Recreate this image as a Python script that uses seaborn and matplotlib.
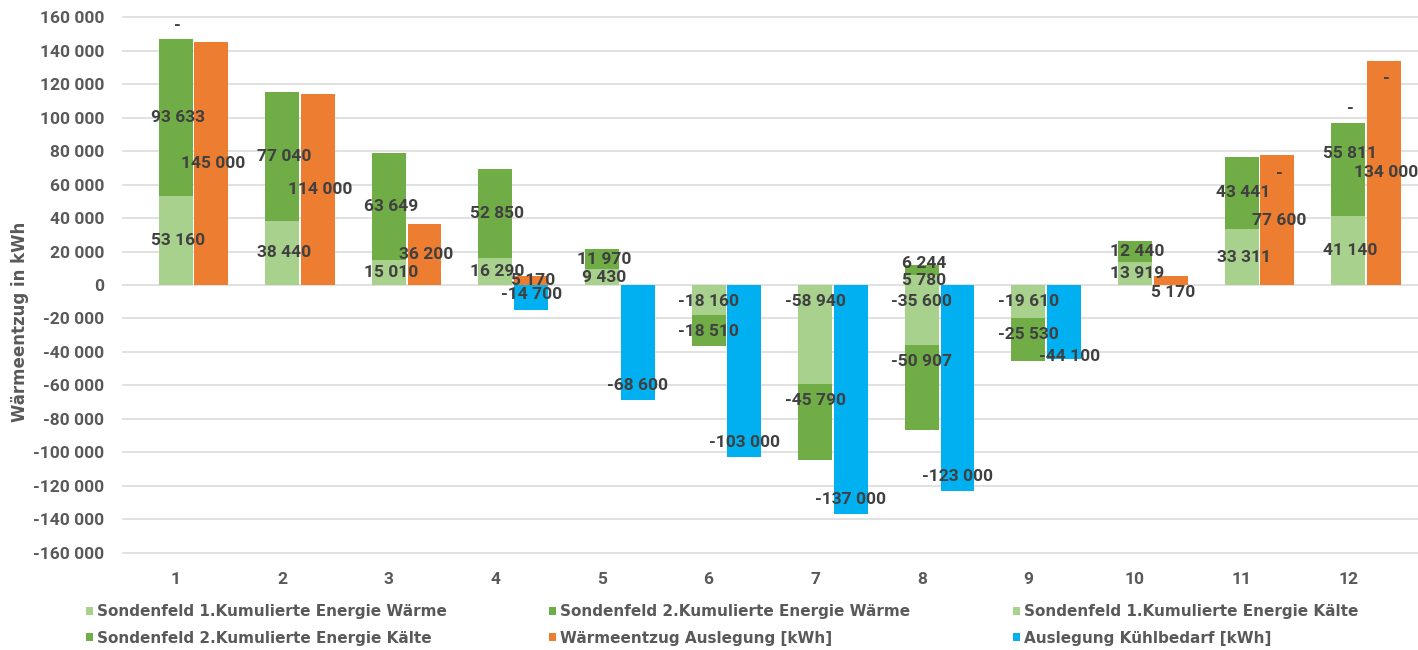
import numpy as np
import pandas as pd
import matplotlib
matplotlib.use("Agg")
import matplotlib.pyplot as plt
from matplotlib.patches import Patch
from matplotlib.ticker import FuncFormatter
import seaborn as sns

# Monthly energy balance of the two borehole fields (kWh); NaN = empty cell, 0 = shown as "-"
nan = np.nan
months = list(range(1, 13))
s1_waerme = [53160, 38440, 15010, 16290, 9430, nan, nan, 5780, nan, 13919, 33311, 41140]
s2_waerme = [93633, 77040, 63649, 52850, 11970, nan, nan, 6244, nan, 12440, 43441, 55811]
s1_kaelte = [0, nan, nan, nan, nan, -18160, -58940, -35600, -19610, nan, nan, 0]
s2_kaelte = [0, nan, nan, nan, nan, -18510, -45790, -50907, -25530, nan, nan, 0]
waermeentzug = [145000, 114000, 36200, 5170, nan, nan, nan, nan, nan, 5170, 77600, 134000]
kuehlbedarf = [nan, nan, nan, -14700, -68600, -103000, -137000, -123000, -44100, nan, 0, 0]

legend_labels = [
    "Sondenfeld 1.Kumulierte Energie Wärme",
    "Sondenfeld 2.Kumulierte Energie Wärme",
    "Sondenfeld 1.Kumulierte Energie Kälte",
    "Sondenfeld 2.Kumulierte Energie Kälte",
    "Wärmeentzug Auslegung [kWh]",
    "Auslegung Kühlbedarf [kWh]",
]
y_title = "Wärmeentzug in kWh"

C_LIGHT = "#A9D18E"
C_DARK = "#70AD47"
C_ORANGE = "#ED7D31"
C_BLUE = "#00B0F0"
LABEL_TXT = "#404040"
AXIS_TXT = "#595959"
GRID = "#D9D9D9"
NUM_FONT = ["Roboto", "DejaVu Sans"]

sns.set_theme(style="white")
plt.rcParams["font.family"] = ["DejaVu Sans"]

W, H = 1418, 650
fig = plt.figure(figsize=(W / 100, H / 100), dpi=100)
fig.patch.set_facecolor("white")
ax = fig.add_axes([122.3 / W, 1 - 556.05 / H, (W - 122.3) / W, (556.05 - 13.95) / H])

df = pd.DataFrame({
    "monat": months,
    "s1w": s1_waerme, "s2w": s2_waerme,
    "s1k": s1_kaelte, "s2k": s2_kaelte,
    "orange": waermeentzug, "blue": kuehlbedarf,
})
df["pos"] = np.arange(len(months), dtype=float)

RIGHT_SHIFT = 0.335
BAR_W = 0.318

plot = df.fillna(0.0)
plot["warm_total"] = plot["s1w"] + plot["s2w"]
plot["cold_total"] = plot["s1k"] + plot["s2k"]
plot["pos_r"] = plot["pos"] + RIGHT_SHIFT


def bars(xcol, ycol, color):
    sns.barplot(data=plot, x=xcol, y=ycol, orient="x", native_scale=True,
                width=BAR_W, color=color, saturation=1, errorbar=None,
                linewidth=0, ax=ax)


# stacked field bars: totals first, then the lower segment on top
bars("pos", "warm_total", C_DARK)
bars("pos", "s1w", C_LIGHT)
bars("pos", "cold_total", C_DARK)
bars("pos", "s1k", C_LIGHT)
# design bars beside them
bars("pos_r", "orange", C_ORANGE)
bars("pos_r", "blue", C_BLUE)


def fmt(v):
    if v == 0:
        return "-"
    s = f"{abs(int(round(v))):,}".replace(",", " ")
    return ("-" if v < 0 else "") + s


PX = 0.72  # points per pixel at 100 dpi


def label(x, y, v, dx=0.0, dy=0.0):
    ax.annotate(fmt(v), (x, y), xytext=(dx * PX, dy * PX), textcoords="offset points",
                ha="center", va="center", fontsize=12.5, color=LABEL_TXT,
                family=NUM_FONT, fontweight="bold", annotation_clip=False)


nudge = {("s2w", 8): (0, 7), ("s2w", 12): (0, 16), ("orange", 10): (0, -12.3),
         ("blue", 9): (5, -12.6)}

for _, r in df.iterrows():
    m = int(r["monat"])
    x, xr = r["pos"], r["pos"] + RIGHT_SHIFT
    s1w = 0 if np.isnan(r["s1w"]) else r["s1w"]
    if not np.isnan(r["s1w"]):
        label(x, r["s1w"] / 2, r["s1w"], 2)
    if not np.isnan(r["s2w"]):
        ddx, ddy = nudge.get(("s2w", m), (0, 0))
        label(x, s1w + r["s2w"] / 2, r["s2w"], 2 + ddx, ddy)
    if not np.isnan(r["s1k"]):
        if r["s1k"] == 0 and r["s2k"] == 0:
            top = s1w + (0 if np.isnan(r["s2w"]) else r["s2w"])
            label(x, top, 0, 2, 14)
        else:
            label(x, 0, r["s1k"], 0, -16.5)
            label(x, r["s1k"], r["s2k"], 0, -16.5)
    if not np.isnan(r["orange"]):
        ddx, ddy = nudge.get(("orange", m), (0, 0))
        label(xr, r["orange"] / 2, r["orange"], 2 + ddx, ddy)
    if not np.isnan(r["blue"]):
        if r["blue"] == 0:
            base = 0 if np.isnan(r["orange"]) else r["orange"]
            label(xr, base, 0, 2, -18)
        else:
            ddx, ddy = nudge.get(("blue", m), (0, 0))
            label(xr, r["blue"], r["blue"], ddx, 14.6 + ddy)

# axes styling
ax.set_xlim(-0.5, -0.5 + (W - 122.3) / 106.6)
ax.set_ylim(-162000, 162000)
ax.set_yticks(np.arange(-160000, 160001, 20000))
ax.yaxis.set_major_formatter(FuncFormatter(lambda v, _: "0" if v == 0 else fmt(v)))
ax.set_xticks(df["pos"].to_numpy())
ax.set_xticklabels([str(m) for m in months])
ax.yaxis.grid(True, color=GRID, linewidth=1.1)
ax.xaxis.grid(False)
ax.set_axisbelow(True)
for sp in ax.spines.values():
    sp.set_visible(False)
ax.tick_params(axis="y", length=0, pad=13, labelsize=12.5, labelcolor=AXIS_TXT)
ax.tick_params(axis="x", length=0, pad=11.5, labelsize=12.5, labelcolor=AXIS_TXT)
for t in ax.get_xticklabels() + ax.get_yticklabels():
    t.set_family(NUM_FONT)
    t.set_fontweight("bold")
ax.set_xlabel("")
ax.set_ylabel("")
fig.text(20 / W, 1 - 322 / H, y_title, rotation=90, ha="center", va="center",
         fontsize=12, color=AXIS_TXT, fontweight="bold")

# legend: three columns, filled row by row
colors = [C_LIGHT, C_DARK, C_LIGHT, C_DARK, C_ORANGE, C_BLUE]
handles = [Patch(facecolor=c, edgecolor="none", label=l) for c, l in zip(colors, legend_labels)]
col_x = [86, 549, 1013]
for ci, cx in enumerate(col_x):
    leg = fig.legend(handles=[handles[ci], handles[ci + 3]], loc="center left",
                     bbox_to_anchor=(cx / W, 1 - 625 / H), frameon=False,
                     fontsize=11, handlelength=0.45, handleheight=0.45,
                     handletextpad=0.25, labelspacing=0.75, borderpad=0,
                     borderaxespad=0)
    for t in leg.get_texts():
        t.set_color(AXIS_TXT)
        t.set_fontweight("bold")

fig.savefig("out.png", dpi=100, facecolor="white")
